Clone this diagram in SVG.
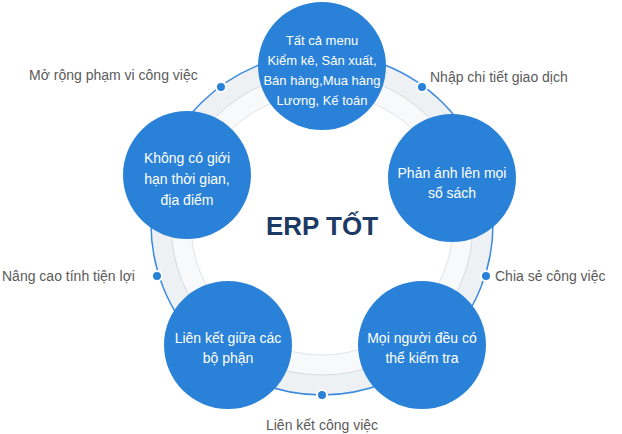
<svg xmlns="http://www.w3.org/2000/svg" width="622" height="434" viewBox="0 0 622 434">
<style>
.n{fill:#2a82d8}
.t{font-family:"Liberation Sans",Arial,sans-serif;font-size:14px;fill:#fff;text-anchor:middle}
.s{font-size:13px}
.l{font-family:"Liberation Sans",Arial,sans-serif;font-size:14px;fill:#5a5a5a}
.d{fill:#2a82d8;stroke:#fff;stroke-width:2}
</style>
<g id="ring">
<circle cx="322" cy="224" r="171" fill="#eef1f4" stroke="#3d8be0" stroke-width="1.5"/>
<circle cx="322" cy="224" r="151" fill="#f7f9fb" stroke="#d6dbe0"/>
<circle cx="322" cy="224" r="131" fill="#fff" stroke="#e0e4e8"/>
</g>
<g id="connectors">
<circle class="d" cx="221" cy="87" r="5"/>
<circle class="d" cx="422" cy="87" r="5"/>
<circle class="d" cx="486" cy="276" r="5"/>
<circle class="d" cx="322" cy="395" r="5"/>
<circle class="d" cx="157" cy="276" r="5"/>
</g>
<g id="n1"><circle class="n" cx="322" cy="66" r="64"/>
<text class="t s" x="322" y="45">Tất cả menu</text><text class="t s" x="322" y="65">Kiểm kê, Sản xuất,</text><text class="t s" x="322" y="85">Bán hàng,Mua hàng</text><text class="t s" x="322" y="105">Lương, Kế toán</text></g>
<g id="n2"><circle class="n" cx="452" cy="178" r="64"/>
<text class="t" x="452" y="178">Phản ánh lên mọi</text><text class="t" x="452" y="198">sổ sách</text></g>
<g id="n3"><circle class="n" cx="422" cy="345" r="64"/>
<text class="t" x="422" y="343">Mọi người đều có</text><text class="t" x="422" y="363">thể kiểm tra</text></g>
<g id="n4"><circle class="n" cx="228" cy="345" r="64"/>
<text class="t" x="228" y="343">Liên kết giữa các</text><text class="t" x="228" y="363">bộ phận</text></g>
<g id="n5"><circle class="n" cx="187" cy="175" r="64"/>
<text class="t" x="187" y="163">Không có giới</text><text class="t" x="187" y="184">hạn thời gian,</text><text class="t" x="187" y="205">địa điểm</text></g>
<text x="322" y="235" font-family="Liberation Sans,Arial,sans-serif" font-size="26" font-weight="bold" fill="#1c3a66" text-anchor="middle">ERP TỐT</text>
<text class="l" x="29" y="80">Mở rộng phạm vi công việc</text>
<text class="l" x="430" y="82">Nhập chi tiết giao dịch</text>
<text class="l" x="495" y="281">Chia sẻ công việc</text>
<text class="l" x="2" y="281">Nâng cao tính tiện lợi</text>
<text class="l" x="322" y="430" text-anchor="middle">Liên kết công việc</text>
</svg>
